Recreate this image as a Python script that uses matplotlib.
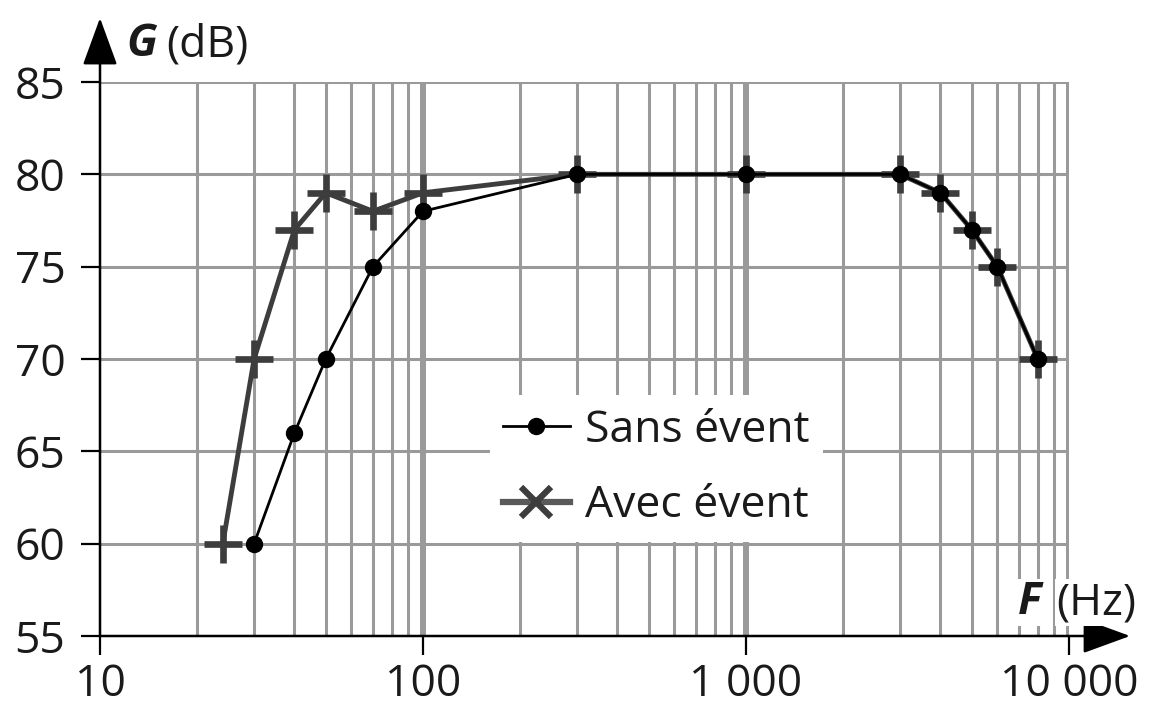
import matplotlib.pyplot as plt
from matplotlib.lines import Line2D

plt.rcParams['font.family'] = ['Open Sans', 'DejaVu Sans']

# data
freq_sans = [30, 40, 50, 70, 100, 300, 1000, 3000, 4000, 5000, 6000, 8000]
gain_sans = [60, 66, 70, 75, 78, 80, 80, 80, 79, 77, 75, 70]
freq_avec = [24, 30, 40, 50, 70, 100, 300, 1000, 3000, 4000, 5000, 6000, 8000]
gain_avec = [60, 70, 77, 79, 78, 79, 80, 80, 80, 79, 77, 75, 70]

y_ticks = [55, 60, 65, 70, 75, 80, 85]
x_ticks = [10, 100, 1000, 10000]
x_labels = ['10', '100', '1 000', '10 000']
minor_x = [m * d for d in (10, 100, 1000) for m in range(2, 10)]

grid_col = '#9a9a9a'
avec_col = '#3d3d3d'
txt_col = '#1a1a1a'
fs = 32

fig = plt.figure(figsize=(11.51, 7.06), dpi=100)
ax = fig.add_axes([100 / 1151, 70 / 706, 969 / 1151, 554 / 706])

ax.set_xscale('log')
ax.set_xlim(10, 10000)
ax.set_ylim(55, 85)
ax.set_xticks(x_ticks)
ax.set_xticklabels(x_labels)
ax.set_xticks(minor_x, minor=True)
ax.set_yticks(y_ticks)

ax.xaxis.grid(True, which='major', color=grid_col, lw=4.3, zorder=0)
ax.xaxis.grid(True, which='minor', color=grid_col, lw=2.2, zorder=0)
ax.yaxis.grid(True, which='major', color=grid_col, lw=2.2, zorder=0)
ax.set_axisbelow(True)
# no grey grid line under the y axis (x = 10) or the x axis (y = 55)
ax.xaxis.get_major_ticks()[0].gridline.set_visible(False)
ax.yaxis.get_major_ticks()[0].gridline.set_visible(False)

ax.tick_params(which='major', length=14, width=1.6, color='black',
               labelsize=fs, labelcolor=txt_col)
ax.tick_params(axis='y', pad=11)
ax.tick_params(axis='x', pad=5)
ax.tick_params(which='minor', length=0)
for s in ax.spines.values():
    s.set_visible(False)

# axes with arrows
arrow = dict(arrowstyle='-|>,head_length=1.15,head_width=0.42', color='black',
             lw=1.8, mutation_scale=26, shrinkA=0, shrinkB=0)
ax.annotate('', xy=(1.063, 0), xytext=(0, 0), xycoords='axes fraction',
            arrowprops=arrow, annotation_clip=False, zorder=5)
ax.annotate('', xy=(0, 1.1155), xytext=(0, 0), xycoords='axes fraction',
            arrowprops=arrow, annotation_clip=False, zorder=5)

ax.plot(freq_avec, gain_avec, color=avec_col, lw=3.5, marker='+', ms=27,
        mew=4.8, zorder=3, clip_on=False)
ax.plot(freq_sans, gain_sans, color='black', lw=2.0, marker='o', ms=11.5,
        zorder=4, clip_on=False)

# axis titles
fig.text(126 / 1151, (706 - 56) / 706, 'G', fontsize=fs, fontweight='bold',
         fontstyle='italic', color=txt_col)
fig.text(166 / 1151, (706 - 56) / 706, '(dB)', fontsize=fs, color=txt_col)
fig.text(1018 / 1151, (706 - 614) / 706, 'F', fontsize=fs, fontweight='bold',
         fontstyle='italic', color=txt_col, zorder=6,
         bbox=dict(facecolor='white', edgecolor='none', pad=1))
fig.text(1056 / 1151, (706 - 614) / 706, '(Hz)', fontsize=fs, color=txt_col,
         zorder=6, bbox=dict(facecolor='white', edgecolor='none', pad=1))

handles = [
    Line2D([], [], color='black', lw=2.0, marker='o', ms=11.5),
    Line2D([], [], color='#5a5a5a', lw=4.5, marker='x', ms=22, mew=4.5,
           markeredgecolor=avec_col),
]
leg = ax.legend(handles, ['Sans évent', 'Avec évent'], loc='center',
                bbox_to_anchor=(0.574, 0.303), fontsize=fs, frameon=True,
                facecolor='white', edgecolor='none', framealpha=1,
                fancybox=False, handlelength=1.5, handletextpad=0.34,
                labelspacing=0.7, borderpad=0.3)
for t in leg.get_texts():
    t.set_color(txt_col)
leg.set_zorder(2.5)

fig.savefig('out.png', dpi=100)
